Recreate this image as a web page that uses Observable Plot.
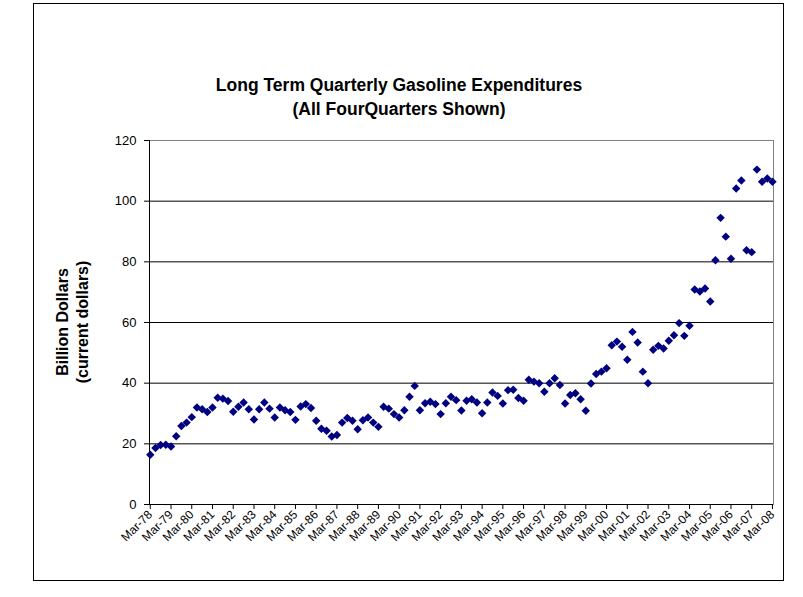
<!DOCTYPE html>
<html><head><meta charset="utf-8">
<script src="https://cdn.jsdelivr.net/npm/d3@7"></script>
<script src="https://cdn.jsdelivr.net/npm/@observablehq/plot@0.6"></script>
<style>body{margin:0;background:#fff;} svg{font-family:"Liberation Sans",Arial,sans-serif;}</style>
</head><body><div id="chart"></div>
<script>
const titleLines = ["Long Term Quarterly Gasoline Expenditures", "(All FourQuarters Shown)"];
const yLabelLines = ["Billion Dollars", "(current dollars)"];
const tickLabels = ["Mar-78","Mar-79","Mar-80","Mar-81","Mar-82","Mar-83","Mar-84","Mar-85","Mar-86","Mar-87",
  "Mar-88","Mar-89","Mar-90","Mar-91","Mar-92","Mar-93","Mar-94","Mar-95","Mar-96","Mar-97",
  "Mar-98","Mar-99","Mar-00","Mar-01","Mar-02","Mar-03","Mar-04","Mar-05","Mar-06","Mar-07","Mar-08"];
const yTicks = [0, 20, 40, 60, 80, 100, 120];
// quarterly expenditures, Mar-78 .. Mar-08 (billion current dollars)
const values = [
  16.4, 18.6, 19.6, 19.7, 19.1, 22.5, 25.9, 27.0, 28.8, 32.0,
  31.4, 30.5, 32.0, 35.2, 34.9, 34.1, 30.6, 32.2, 33.6, 31.4,
  28.0, 31.4, 33.6, 31.6, 28.7, 32.0, 31.1, 30.5, 27.9, 32.3,
  33.1, 31.8, 27.6, 25.0, 24.3, 22.4, 22.9, 27.0, 28.5, 27.6,
  24.8, 27.8, 28.7, 27.0, 25.6, 32.2, 31.6, 29.8, 28.7, 31.1,
  35.5, 39.1, 31.1, 33.4, 33.9, 33.1, 29.8, 33.4, 35.5, 34.4,
  31.0, 34.2, 34.7, 33.6, 30.1, 33.6, 36.9, 35.8, 33.3, 37.7,
  37.8, 35.1, 34.2, 41.1, 40.5, 40.0, 37.2, 40.0, 41.6, 39.4,
  33.3, 36.1, 36.7, 34.7, 30.9, 39.9, 43.0, 43.8, 44.9, 52.5,
  53.7, 52.0, 47.7, 56.9, 53.4, 43.8, 40.0, 51.0, 52.3, 51.4,
  54.0, 55.8, 59.8, 55.6, 58.9, 70.9, 70.2, 71.2, 66.9, 80.5,
  94.5, 88.3, 81.0, 104.2, 106.8, 83.8, 83.2, 110.4, 106.4, 107.5,
  106.4
];
const data = values.map((v, i) => ({q: i, v}));
const xDomain = [-0.15, 120.2];

const chart = Plot.plot({
  width: 803, height: 597,
  marginLeft: 149, marginRight: 30, marginTop: 140, marginBottom: 93,
  style: {fontFamily: "Liberation Sans, Arial, sans-serif", color: "#000", background: "#fff"},
  x: {domain: xDomain, label: null},
  y: {domain: [0, 120], label: null},
  marks: [
    Plot.gridY(yTicks.slice(1), {stroke: "#000", strokeOpacity: 1}),
    Plot.frame({stroke: "#808080"}),
    Plot.ruleY([0], {stroke: "#000"}),
    Plot.ruleX([xDomain[0]], {stroke: "#000"}),
    Plot.axisY(yTicks, {label: null, tickSize: 5, tickPadding: 8, fontSize: 13}),
    Plot.axisX(d3.range(0, 121, 4), {label: null, tickFormat: d => tickLabels[d / 4], tickRotate: -45, tickSize: 5, tickPadding: 3, fontSize: 12, textAnchor: "end"}),
    Plot.dot(data, {x: "q", y: "v", symbol: "diamond2", r: 3.8, fill: "#000080", stroke: null})
  ]
});

const svg = d3.select(chart);
svg.append("rect").attr("x", 33.5).attr("y", 3.5).attr("width", 750).attr("height", 577)
  .attr("fill", "none").attr("stroke", "#000");
svg.append("text").attr("x", 399).attr("y", 91).attr("text-anchor", "middle")
  .attr("font-weight", "bold").attr("font-size", 17.5).text(titleLines[0]);
svg.append("text").attr("x", 399).attr("y", 115).attr("text-anchor", "middle")
  .attr("font-weight", "bold").attr("font-size", 17.5).text(titleLines[1]);
svg.append("text").attr("transform", "translate(68,322) rotate(-90)").attr("text-anchor", "middle")
  .attr("font-weight", "bold").attr("font-size", 16).text(yLabelLines[0]);
svg.append("text").attr("transform", "translate(88,322) rotate(-90)").attr("text-anchor", "middle")
  .attr("font-weight", "bold").attr("font-size", 16).text(yLabelLines[1]);
document.getElementById("chart").appendChild(chart);
</script></body></html>
